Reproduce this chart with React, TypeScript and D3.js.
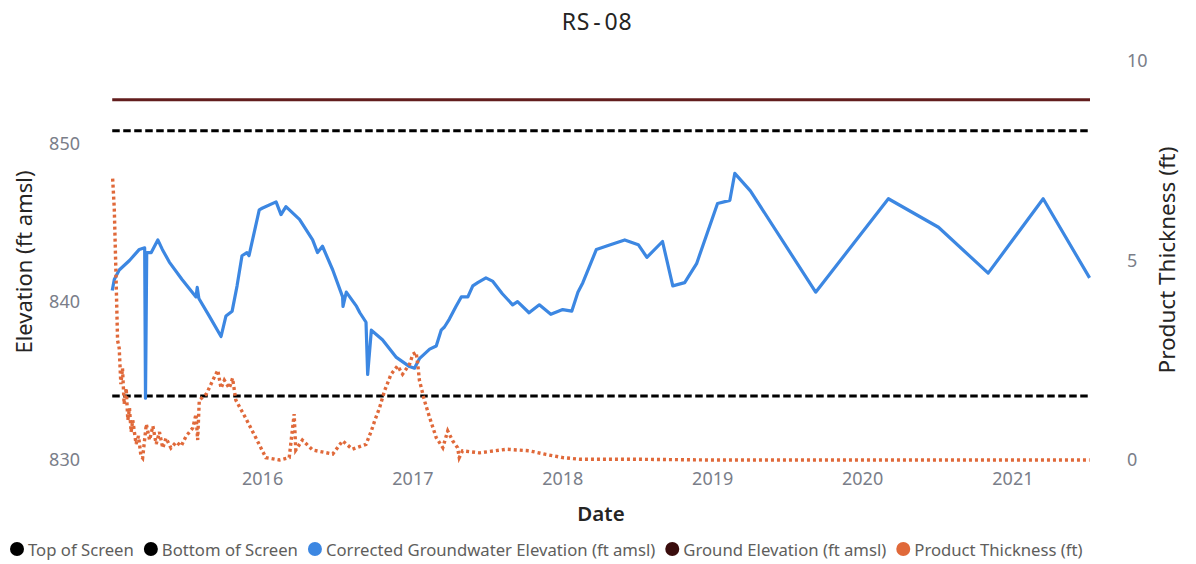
import React, { useEffect, useRef } from "react";
import * as d3 from "d3";

// ---------- data ----------
const groundwaterDates = [
  "2015-01-01", "2015-01-06", "2015-01-18", "2015-02-12", "2015-03-08", "2015-03-21", "2015-03-23", "2015-03-26",
  "2015-04-06", "2015-04-22", "2015-05-03", "2015-05-20", "2015-06-20", "2015-07-24", "2015-07-27", "2015-07-31",
  "2015-08-25", "2015-09-23", "2015-10-05", "2015-10-20", "2015-11-01", "2015-11-13", "2015-11-25", "2015-11-30",
  "2015-12-25", "2016-01-01", "2016-02-04", "2016-02-16", "2016-02-28", "2016-04-01", "2016-05-03", "2016-05-15",
  "2016-05-27", "2016-06-21", "2016-07-15", "2016-07-16", "2016-07-24", "2016-08-18", "2016-08-26", "2016-09-10",
  "2016-09-14", "2016-09-23", "2016-10-20", "2016-11-22", "2016-12-25", "2017-01-06", "2017-01-18", "2017-02-12",
  "2017-02-28", "2017-03-12", "2017-03-20", "2017-04-01", "2017-04-17", "2017-04-30", "2017-05-16", "2017-05-28",
  "2017-06-09", "2017-06-29", "2017-07-15", "2017-08-08", "2017-09-02", "2017-09-14", "2017-10-12", "2017-11-06",
  "2017-12-04", "2018-01-02", "2018-01-24", "2018-02-08", "2018-02-20", "2018-03-25", "2018-04-28", "2018-06-02",
  "2018-07-05", "2018-07-26", "2018-09-02", "2018-09-27", "2018-10-26", "2018-11-24", "2019-01-14", "2019-02-13",
  "2019-02-25", "2019-04-04", "2019-09-10", "2020-03-05", "2020-07-05", "2020-11-03", "2021-03-17", "2021-07-08",
];
const groundwaterValues = [
  840.7, 841.4, 842.0, 842.6, 843.3, 843.4, 833.9, 843.1,
  843.1, 843.9, 843.3, 842.5, 841.4, 840.3, 840.9, 840.2,
  839.1, 837.8, 839.1, 839.4, 841.0, 842.9, 843.1, 842.9,
  845.8, 845.9, 846.3, 845.5, 846.0, 845.2, 843.9, 843.1,
  843.5, 842.0, 840.3, 839.7, 840.6, 839.7, 839.3, 838.7,
  835.4, 838.2, 837.6, 836.5, 835.9, 835.8, 836.4, 837.0,
  837.2, 838.2, 838.4, 838.9, 839.7, 840.3, 840.3, 841.0,
  841.2, 841.5, 841.3, 840.5, 839.8, 840.0, 839.3, 839.8,
  839.2, 839.5, 839.4, 840.6, 841.2, 843.3, 843.6, 843.9,
  843.6, 842.8, 843.8, 841.0, 841.2, 842.4, 846.2, 846.4,
  848.1, 847.0, 840.6, 846.5, 844.7, 841.8, 846.5, 841.5,
];

const thicknessDates = [
  "2015-01-02", "2015-01-06", "2015-01-10", "2015-01-14", "2015-01-18", "2015-01-22", "2015-01-26", "2015-01-30",
  "2015-02-04", "2015-02-08", "2015-02-12", "2015-02-16", "2015-02-20", "2015-02-28", "2015-03-06", "2015-03-12",
  "2015-03-16", "2015-03-25", "2015-04-02", "2015-04-10", "2015-04-18", "2015-04-26", "2015-05-04", "2015-05-12",
  "2015-05-24", "2015-06-06", "2015-06-18", "2015-06-30", "2015-07-16", "2015-07-24", "2015-07-28", "2015-08-01",
  "2015-08-18", "2015-09-03", "2015-09-15", "2015-09-23", "2015-10-01", "2015-10-13", "2015-10-21", "2015-10-29",
  "2015-11-22", "2015-12-17", "2016-01-10", "2016-02-12", "2016-03-07", "2016-03-19", "2016-03-23", "2016-04-08",
  "2016-05-03", "2016-06-21", "2016-07-15", "2016-08-08", "2016-09-10", "2016-09-23", "2016-10-01", "2016-10-13",
  "2016-10-25", "2016-11-10", "2016-11-26", "2016-12-08", "2016-12-25", "2017-01-02", "2017-01-10", "2017-01-14",
  "2017-01-18", "2017-01-30", "2017-02-12", "2017-02-28", "2017-03-16", "2017-03-28", "2017-04-09", "2017-04-21",
  "2017-04-25", "2017-05-03", "2017-06-13", "2017-08-18", "2017-10-13", "2017-11-22", "2018-01-02", "2018-02-12",
  "2018-06-13", "2019-01-01", "2020-01-01", "2021-01-01", "2021-07-08",
];
const thicknessValues = [
  7.05, 6.3, 4.7, 3.0, 2.8, 1.9, 2.3, 1.4,
  1.8, 1.0, 1.3, 0.7, 1.0, 0.4, 0.6, 0.1,
  0.05, 0.9, 0.5, 0.85, 0.4, 0.7, 0.3, 0.55,
  0.3, 0.45, 0.35, 0.6, 0.8, 1.15, 0.5, 1.5,
  1.65, 2.0, 2.25, 1.8, 2.0, 1.8, 2.05, 1.5,
  1.05, 0.55, 0.06, 0.0, 0.06, 1.15, 0.25, 0.5,
  0.25, 0.15, 0.48, 0.27, 0.39, 0.73, 0.98, 1.31,
  1.73, 2.15, 2.36, 2.15, 2.4, 2.65, 2.7, 2.4,
  2.0, 1.5, 1.06, 0.56, 0.31, 0.73, 0.48, 0.31,
  0.06, 0.23, 0.18, 0.27, 0.23, 0.14, 0.06, 0.02,
  0.02, 0.0, 0.0, 0.0, 0.0,
];

const groundElevation = 852.75;
const topOfScreen = 850.8;
const bottomOfScreen = 834.05;

const xTickYears = [2016, 2017, 2018, 2019, 2020, 2021];
const leftTicks = [830, 840, 850];
const rightTicks = [0, 5, 10];

const legendNames = [
  "Top of Screen",
  "Bottom of Screen",
  "Corrected Groundwater Elevation (ft amsl)",
  "Ground Elevation (ft amsl)",
  "Product Thickness (ft)",
];

// ---------- styles ----------
const COLOR_TOP = "#000000";
const COLOR_BOTTOM = "#000000";
const COLOR_GW = "#3C87E2";
const COLOR_GROUND = "#621D1D";
const COLOR_THICK = "#E0693A";
const legendColors = [COLOR_TOP, COLOR_BOTTOM, COLOR_GW, "#3A0D0D", COLOR_THICK];
const FONT = "'Segoe UI', 'Noto Sans', sans-serif";

export default function App() {
  const ref = useRef<SVGSVGElement>(null);

  useEffect(() => {
    const svg = d3.select(ref.current);
    svg.selectAll("*").remove();
    const parse = d3.utcParse("%Y-%m-%d");

    const left = 111, right = 1090, top = 61, bottom = 460;
    const x = d3
      .scaleUtc()
      .domain([new Date(Date.UTC(2014, 11, 29)), new Date(Date.UTC(2021, 6, 9))])
      .range([left, right]);
    const yL = d3.scaleLinear().domain([830, 855.2]).range([bottom, top]);
    const yR = d3.scaleLinear().domain([0, 10]).range([bottom, top]);

    svg.append("rect").attr("width", 1196).attr("height", 564).attr("fill", "#ffffff");

    // title
    const title = svg.append("text")
      .attr("x", 597).attr("y", 30)
      .attr("text-anchor", "middle")
      .attr("font-family", FONT).attr("font-size", 23)
      .attr("letter-spacing", 0.8)
      .attr("fill", "#252423");
    title.append("tspan").text("RS");
    title.append("tspan").attr("dx", 3).text("-");
    title.append("tspan").attr("dx", 3).text("08");

    // axes
    const tickFont = (g: any) => {
      g.select(".domain").remove();
      g.selectAll("text").attr("font-family", FONT).attr("font-size", 18).attr("fill", "#7a7e89");
    };
    svg.append("g")
      .attr("transform", `translate(0,${bottom})`)
      .call(
        d3.axisBottom(x)
          .tickValues(xTickYears.map((yr) => new Date(Date.UTC(yr, 0, 1))))
          .tickFormat((d: any) => d3.utcFormat("%Y")(d))
          .tickSize(0).tickPadding(12)
      )
      .call(tickFont);
    svg.append("g")
      .attr("transform", `translate(80,0)`)
      .call(d3.axisLeft(yL).tickValues(leftTicks).tickSize(0).tickPadding(0))
      .call(tickFont);
    svg.append("g")
      .attr("transform", `translate(1127,0)`)
      .call(d3.axisRight(yR).tickValues(rightTicks).tickSize(0).tickPadding(0))
      .call(tickFont);

    // axis titles
    svg.append("text")
      .attr("x", 601).attr("y", 521)
      .attr("text-anchor", "middle")
      .attr("font-family", FONT).attr("font-size", 20.5).attr("font-weight", 600)
      .attr("fill", "#252423").text("Date");
    svg.append("text")
      .attr("transform", "translate(32,262) rotate(-90)")
      .attr("text-anchor", "middle")
      .attr("font-family", FONT).attr("font-size", 22)
      .attr("fill", "#252423").text("Elevation (ft amsl)");
    svg.append("text")
      .attr("transform", "translate(1175,260) rotate(-90)")
      .attr("text-anchor", "middle")
      .attr("font-family", FONT).attr("font-size", 22.5)
      .attr("fill", "#252423").text("Product Thickness (ft)");

    const xDom = x.domain();
    const flat = (v: number) => [
      [x(new Date(Date.UTC(2015, 0, 1))), yL(v)],
      [x(xDom[1]), yL(v)],
    ] as [number, number][];
    const lineXY = d3.line<[number, number]>();

    // Top of screen
    svg.append("path").attr("d", lineXY(flat(topOfScreen)))
      .attr("fill", "none").attr("stroke", COLOR_TOP).attr("stroke-width", 3)
      .attr("stroke-dasharray", "7.5 3.5");
    // Bottom of screen
    svg.append("path").attr("d", lineXY(flat(bottomOfScreen)))
      .attr("fill", "none").attr("stroke", COLOR_BOTTOM).attr("stroke-width", 3)
      .attr("stroke-dasharray", "7.5 3.5");

    // Groundwater
    const gw = groundwaterDates.map((d, i) => ({ d: parse(d) as Date, v: groundwaterValues[i] }));
    const gwLine = d3.line<{ d: Date; v: number }>().x((p) => x(p.d)).y((p) => yL(p.v));
    svg.append("path").attr("d", gwLine(gw))
      .attr("fill", "none").attr("stroke", COLOR_GW).attr("stroke-width", 3.2)
      .attr("stroke-linejoin", "round");

    // Ground elevation
    svg.append("path").attr("d", lineXY(flat(groundElevation)))
      .attr("fill", "none").attr("stroke", COLOR_GROUND).attr("stroke-width", 3);

    // Product thickness
    const th = thicknessDates.map((d, i) => ({ d: parse(d) as Date, v: thicknessValues[i] }));
    const thLine = d3.line<{ d: Date; v: number }>().x((p) => x(p.d)).y((p) => yR(p.v));
    svg.append("path").attr("d", thLine(th))
      .attr("fill", "none").attr("stroke", COLOR_THICK).attr("stroke-width", 3.4)
      .attr("stroke-dasharray", "3 3");

    // legend
    const lg = svg.append("g");
    let cx = 17;
    const ly = 549;
    legendNames.forEach((name, i) => {
      lg.append("circle").attr("cx", cx).attr("cy", ly).attr("r", 7).attr("fill", legendColors[i]);
      const t = lg.append("text")
        .attr("x", cx + 11).attr("y", ly)
        .attr("dominant-baseline", "central")
        .attr("font-family", FONT).attr("font-size", 16.7)
        .attr("fill", "#605E5C").text(name);
      const w = (t.node() as SVGTextElement).getComputedTextLength();
      cx = cx + 11 + w + 17;
    });
  }, []);

  return (
    <svg
      ref={ref}
      width={1196}
      height={564}
      style={{ position: "absolute", left: 0, top: 0, display: "block" }}
    />
  );
}
